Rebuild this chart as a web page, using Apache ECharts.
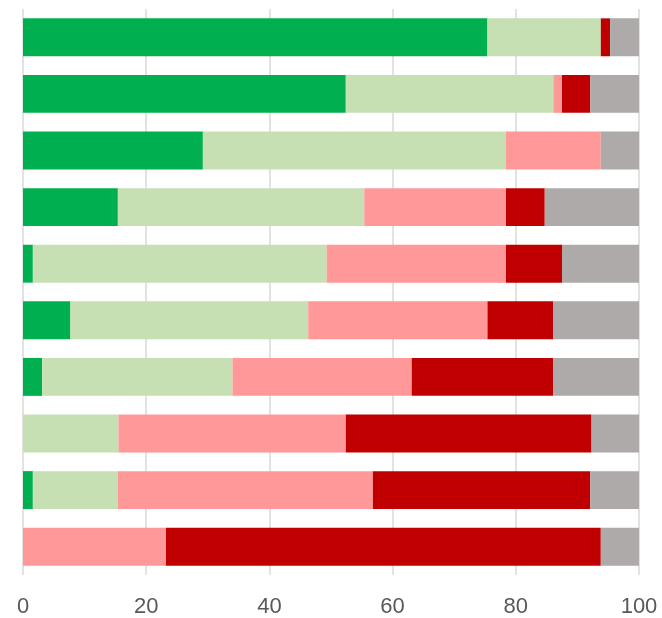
<!DOCTYPE html>
<html><head><meta charset="utf-8">
<script src="https://cdn.jsdelivr.net/npm/echarts@6/dist/echarts.min.js"></script>
<style>html,body{margin:0;padding:0;background:#fff}#c{width:662px;height:618px}</style>
</head><body><div id="c"></div>
<script>
const categories = ['1','2','3','4','5','6','7','8','9','10'];
const xTicks = [0, 20, 40, 60, 80, 100];
const s1 = [75.4, 52.4, 29.2, 15.4, 1.6, 7.7, 3.1, 0, 1.6, 0];
const s2 = [18.4, 33.7, 49.2, 40.0, 47.7, 38.6, 30.9, 15.5, 13.8, 0];
const s3 = [0, 1.4, 15.4, 23.0, 29.1, 29.1, 29.1, 36.9, 41.4, 23.2];
const s4 = [1.5, 4.6, 0, 6.3, 9.1, 10.7, 23.0, 39.9, 35.3, 70.6];
const s5 = [4.7, 7.9, 6.2, 15.3, 12.5, 13.9, 13.9, 7.7, 7.9, 6.2];
const seriesData = [s1, s2, s3, s4, s5];
const colors = ['#00B050', '#C6E0B4', '#FF9999', '#C00000', '#AEAAAA'];

const chart = echarts.init(document.getElementById('c'), null, {renderer: 'canvas'});
chart.setOption({
  animation: false,
  grid: {left: 23, right: 23, top: 9, bottom: 42, containLabel: false},
  xAxis: {
    type: 'value', min: 0, max: 100, interval: 20,
    axisLine: {show: false}, axisTick: {show: false},
    axisLabel: {color: '#595959', fontSize: 22, fontFamily: '"Liberation Sans Narrow", "Liberation Sans", sans-serif', margin: 21,
      formatter: v => xTicks.includes(v) ? String(v) : ''},
    splitLine: {show: true, lineStyle: {color: '#D9D9D9', width: 1.5}}
  },
  yAxis: {
    type: 'category', data: categories, inverse: true,
    axisLine: {show: false}, axisTick: {show: false}, axisLabel: {show: false},
    splitLine: {show: false}
  },
  series: seriesData.map((d, i) => ({
    type: 'bar', stack: 'total', data: d, barCategoryGap: '33%',
    itemStyle: {color: colors[i]}
  }))
});
</script></body></html>
